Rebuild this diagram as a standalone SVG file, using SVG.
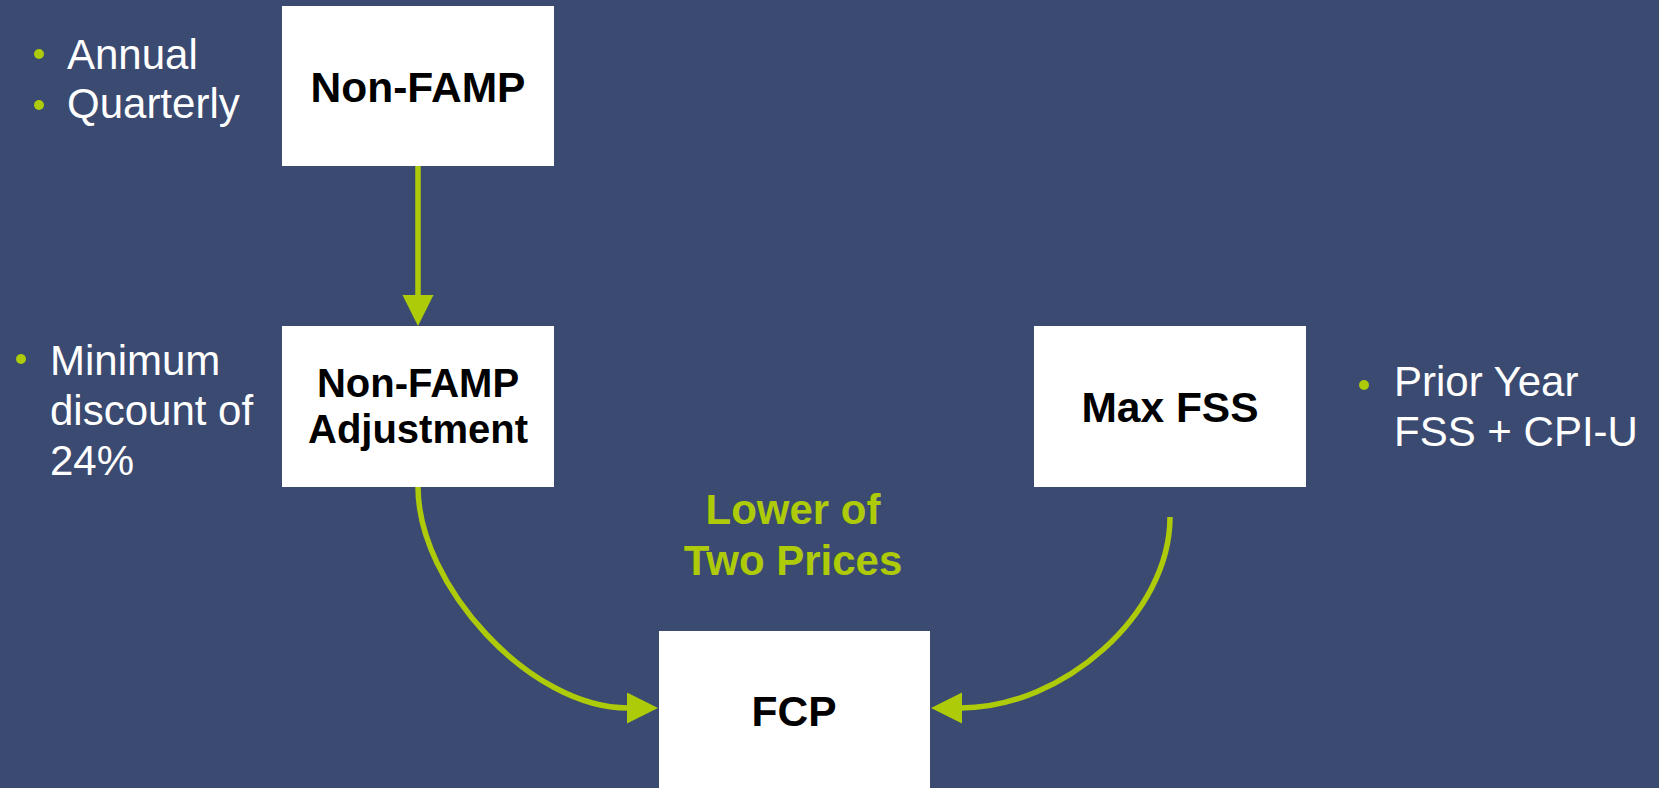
<svg xmlns="http://www.w3.org/2000/svg" width="1659" height="788" viewBox="0 0 1659 788">
<style>
.box{fill:#ffffff}
.lbl{font-family:"Liberation Sans",Arial,sans-serif;font-weight:bold;font-size:42.5px;fill:#000000;text-anchor:middle}
.bul{font-family:"Liberation Sans",Arial,sans-serif;font-size:42px;fill:#ffffff}
.dot{fill:#AECB09}
.con{fill:none;stroke:#AECB09;stroke-width:5.5}
.note{font-family:"Liberation Sans",Arial,sans-serif;font-weight:bold;font-size:42px;fill:#AECB09;text-anchor:middle}
</style>
<defs>
<marker id="ah" markerUnits="userSpaceOnUse" markerWidth="32" markerHeight="32" refX="1" refY="15.5" orient="auto">
<path d="M0,0 L31,15.5 L0,31 z" fill="#AECB09"/>
</marker>
</defs>
<rect width="1659" height="788" fill="#3B4A71"/>

<g id="bullets-top">
<circle class="dot" cx="39" cy="54" r="5"/>
<text class="bul" x="67" y="69">Annual</text>
<circle class="dot" cx="39" cy="105" r="5"/>
<text class="bul" x="67" y="118">Quarterly</text>
</g>
<g id="bullets-left">
<circle class="dot" cx="21" cy="359" r="5"/>
<text class="bul" x="50" y="375">Minimum</text>
<text class="bul" x="50" y="425">discount of</text>
<text class="bul" x="50" y="475">24%</text>
</g>
<g id="bullets-right">
<circle class="dot" cx="1364" cy="385" r="5"/>
<text class="bul" x="1394" y="396">Prior Year</text>
<text class="bul" x="1394" y="446">FSS + CPI-U</text>
</g>

<g id="connectors">
<path class="con" d="M418,165 L418,296" marker-end="url(#ah)"/>
<path class="con" d="M418,487 C418,585 530,708 628,708" marker-end="url(#ah)"/>
<path class="con" d="M1170,517 C1170,615 1062,708 961,708" marker-end="url(#ah)"/>
</g>

<g id="node-nonfamp">
<rect class="box" x="282" y="6" width="272" height="160"/>
<text class="lbl" x="418" y="102">Non-FAMP</text>
</g>
<g id="node-adjustment">
<rect class="box" x="282" y="326" width="272" height="161"/>
<text class="lbl" x="418" y="397" style="font-size:40px">Non-FAMP</text>
<text class="lbl" x="418" y="443" style="font-size:40px">Adjustment</text>
</g>
<g id="node-maxfss">
<rect class="box" x="1034" y="326" width="272" height="161"/>
<text class="lbl" x="1170" y="422">Max FSS</text>
</g>
<g id="node-fcp">
<rect class="box" x="659" y="631" width="271" height="161"/>
<text class="lbl" x="794" y="726">FCP</text>
</g>
<g id="label-lower">
<text class="note" x="793" y="524">Lower of</text>
<text class="note" x="793" y="575">Two Prices</text>
</g>
</svg>
